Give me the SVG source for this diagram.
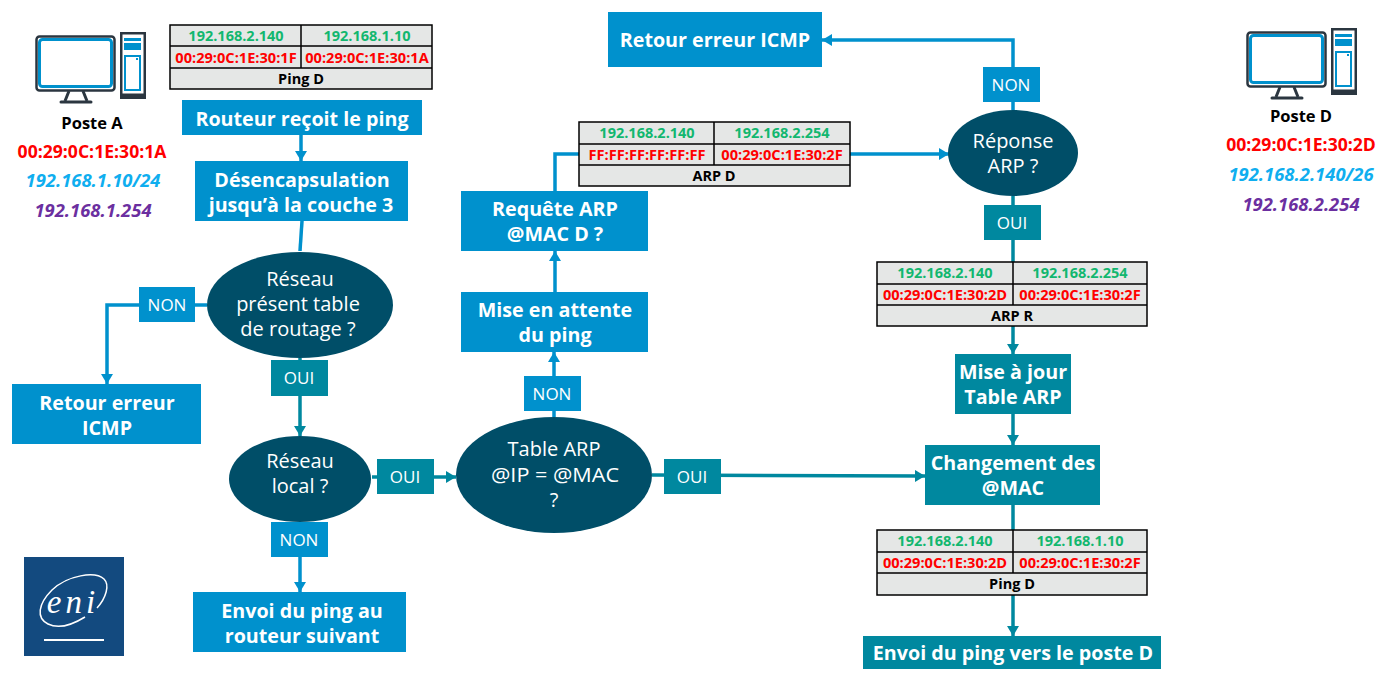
<svg xmlns="http://www.w3.org/2000/svg" width="1389" height="679" viewBox="0 0 1389 679">
<style>
text{font-family:"Open Sans","Noto Sans","Liberation Sans",sans-serif;text-anchor:middle}
.b{fill:#0091CD}.t{fill:#00889F}.d{fill:#004E68}
.h{font-size:19.7px;font-weight:700;fill:#fff}
.q{font-size:20px;fill:#fff}
.l{font-size:17px;fill:#fff}
.ip{font-size:14.5px;font-weight:700;fill:#12B76F}
.mac{font-size:14.6px;font-weight:700;fill:#f00}
.cap{font-size:14.5px;font-weight:700;fill:#000}
.cell{fill:#E5E7E6;stroke:#000;stroke-width:1.5}
.tl{stroke:#000;stroke-width:1.5;fill:none}
.name{font-size:16.5px;font-weight:700;fill:#000}
.r{font-size:17.6px;font-weight:700;fill:#f00}
.c{font-size:18.4px;font-weight:700;font-style:italic;fill:#0FAEEF}
.p{font-size:18.4px;font-weight:700;font-style:italic;fill:#6B2FA0}
.cb{stroke:#0091CD;stroke-width:3.5;fill:none}
.ct{stroke:#00889F;stroke-width:3.5;fill:none}
.mon{fill:#fff;stroke:#2B3640;stroke-width:2.5}
.scr{fill:#fff;stroke:#0091CD;stroke-width:3}
</style>
<defs>
<marker id="ab" markerUnits="userSpaceOnUse" markerWidth="12" markerHeight="12" refX="10" refY="6" orient="auto"><path d="M0 0L10 6L0 12Z" fill="#0091CD"/></marker>
<marker id="at" markerUnits="userSpaceOnUse" markerWidth="12" markerHeight="12" refX="10" refY="6" orient="auto"><path d="M0 0L10 6L0 12Z" fill="#00889F"/></marker>
<g id="pc">
<rect class="mon" x="0.5" y="0.5" width="78" height="54" rx="3"/>
<rect class="scr" x="3.5" y="3.5" width="72" height="47" rx="3"/>
<path d="M33 55L29 65M47 55L51 65" stroke="#2B3640" stroke-width="3" fill="none"/>
<path d="M25 66H55" stroke="#2B3640" stroke-width="3" stroke-linecap="round"/>
<rect x="84" y="-4" width="26" height="67" fill="#2B3640"/>
<rect x="86.5" y="-1.5" width="21" height="59" fill="#fff"/>
<rect x="88" y="2" width="17" height="3" fill="#0091CD"/>
<rect x="88" y="7" width="17" height="7" fill="#0091CD"/>
<rect x="88" y="19" width="17" height="36" fill="#0091CD"/>
<rect x="90" y="21" width="13" height="32" fill="#fff"/>
<rect x="100" y="22" width="2" height="2" fill="#0091CD"/>
</g>
</defs>

<g id="connectors">
<path class="cb" d="M301 135V161" marker-end="url(#ab)"/>
<path class="cb" d="M302 221L300 251"/>
<path class="cb" d="M207 305H107V384" marker-end="url(#ab)"/>
<path class="ct" d="M300 358V436" marker-end="url(#at)"/>
<path class="ct" d="M372 477H456" marker-end="url(#at)"/>
<path class="cb" d="M300 522V592" marker-end="url(#ab)"/>
<path class="ct" d="M652 475L925 476" marker-end="url(#at)"/>
<path class="cb" d="M554 417V352" marker-end="url(#ab)"/>
<path class="cb" d="M555 292V251" marker-end="url(#ab)"/>
<path class="cb" d="M555 191V154H949" marker-end="url(#ab)"/>
<path class="cb" d="M1013 110V40H822" marker-end="url(#ab)"/>
<path class="ct" d="M1013 196V354" marker-end="url(#at)"/>
<path class="ct" d="M1013 414V445" marker-end="url(#at)"/>
<path class="ct" d="M1013 505V636" marker-end="url(#at)"/>
</g>

<g id="poste-a">
<use href="#pc" x="36" y="36"/>
<text class="name" x="92" y="129">Poste A</text>
<text class="r" x="92" y="158">00:29:0C:1E:30:1A</text>
<text class="c" x="93" y="187">192.168.1.10/24</text>
<text class="p" x="93" y="217">192.168.1.254</text>
</g>
<g id="poste-d">
<use href="#pc" x="1247" y="32"/>
<text class="name" x="1301" y="122">Poste D</text>
<text class="r" x="1301" y="151">00:29:0C:1E:30:2D</text>
<text class="c" x="1301" y="181">192.168.2.140/26</text>
<text class="p" x="1301" y="211">192.168.2.254</text>
</g>

<g id="table-ping-1">
<rect class="cell" x="170" y="25" width="262" height="64"/>
<path class="tl" d="M170 46H432M170 68H432M301 25V68"/>
<text class="ip" x="236" y="41">192.168.2.140</text><text class="ip" x="367" y="41">192.168.1.10</text>
<text class="mac" x="236" y="63">00:29:0C:1E:30:1F</text><text class="mac" x="367" y="63">00:29:0C:1E:30:1A</text>
<text class="cap" x="301" y="84">Ping D</text>
</g>
<g id="table-arp-d">
<rect class="cell" x="579" y="122" width="271" height="64"/>
<path class="tl" d="M579 144H850M579 165H850M714 122V165"/>
<text class="ip" x="647" y="138">192.168.2.140</text><text class="ip" x="782" y="138">192.168.2.254</text>
<text class="mac" x="647" y="160">FF:FF:FF:FF:FF:FF</text><text class="mac" x="782" y="160">00:29:0C:1E:30:2F</text>
<text class="cap" x="714" y="181">ARP D</text>
</g>
<g id="table-arp-r">
<rect class="cell" x="877" y="262" width="270" height="64"/>
<path class="tl" d="M877 284H1147M877 305H1147M1013 262V305"/>
<text class="ip" x="945" y="278">192.168.2.140</text><text class="ip" x="1080" y="278">192.168.2.254</text>
<text class="mac" x="945" y="300">00:29:0C:1E:30:2D</text><text class="mac" x="1080" y="300">00:29:0C:1E:30:2F</text>
<text class="cap" x="1012" y="321">ARP R</text>
</g>
<g id="table-ping-2">
<rect class="cell" x="877" y="530" width="270" height="65"/>
<path class="tl" d="M877 552H1147M877 573H1147M1013 530V573"/>
<text class="ip" x="945" y="546">192.168.2.140</text><text class="ip" x="1080" y="546">192.168.1.10</text>
<text class="mac" x="945" y="568">00:29:0C:1E:30:2D</text><text class="mac" x="1080" y="568">00:29:0C:1E:30:2F</text>
<text class="cap" x="1012" y="589">Ping D</text>
</g>

<g id="routeur-recoit"><rect class="b" x="182" y="100" width="240" height="35"/><text class="h" x="302" y="126">Routeur reçoit le ping</text></g>
<g id="desencapsulation"><rect class="b" x="195" y="161" width="213" height="60"/><text class="h" x="302" y="187">Désencapsulation</text><text class="h" x="301" y="212">jusqu’à la couche 3</text></g>
<g id="reseau-present"><ellipse class="d" cx="300" cy="305" rx="93" ry="53"/><text class="q" x="300" y="286">Réseau</text><text class="q" x="298" y="311">présent table</text><text class="q" x="298" y="336">de routage ?</text></g>
<g id="non-1"><rect class="b" x="139" y="287" width="56" height="35"/><text class="l" x="167" y="311">NON</text></g>
<g id="retour-icmp-1"><rect class="b" x="12" y="384" width="189" height="60"/><text class="h" x="107" y="410">Retour erreur</text><text class="h" x="107" y="435">ICMP</text></g>
<g id="oui-1"><rect class="t" x="271" y="360" width="57" height="36"/><text class="l" x="299" y="384">OUI</text></g>
<g id="reseau-local"><ellipse class="d" cx="300" cy="479" rx="71" ry="43"/><text class="q" x="300" y="468">Réseau</text><text class="q" x="300" y="493">local ?</text></g>
<g id="oui-2"><rect class="t" x="377" y="459" width="57" height="35"/><text class="l" x="405" y="483">OUI</text></g>
<g id="non-2"><rect class="b" x="271" y="522" width="57" height="35"/><text class="l" x="299" y="546">NON</text></g>
<g id="envoi-routeur"><rect class="b" x="193" y="592" width="213" height="60"/><text class="h" x="302" y="618">Envoi du ping au</text><text class="h" x="302" y="643">routeur suivant</text></g>
<g id="table-arp"><ellipse class="d" cx="554" cy="475" rx="98" ry="58"/><text class="q" x="554" y="456">Table ARP</text><text class="q" x="555" y="482" textLength="128" lengthAdjust="spacingAndGlyphs">@IP = @MAC</text><text class="q" x="554" y="507">?</text></g>
<g id="oui-3"><rect class="t" x="664" y="459" width="57" height="35"/><text class="l" x="692" y="483">OUI</text></g>
<g id="non-3"><rect class="b" x="524" y="376" width="57" height="35"/><text class="l" x="552" y="400">NON</text></g>
<g id="mise-attente"><rect class="b" x="461" y="292" width="187" height="60"/><text class="h" x="555" y="317">Mise en attente</text><text class="h" x="555" y="342">du ping</text></g>
<g id="requete-arp"><rect class="b" x="461" y="191" width="187" height="60"/><text class="h" x="555" y="216">Requête ARP</text><text class="h" x="555" y="241">@MAC D ?</text></g>
<g id="retour-icmp-2"><rect class="b" x="608" y="12" width="214" height="55"/><text class="h" x="715" y="47">Retour erreur ICMP</text></g>
<g id="non-4"><rect class="b" x="983" y="67" width="57" height="35"/><text class="l" x="1011" y="91">NON</text></g>
<g id="reponse-arp"><ellipse class="d" cx="1013" cy="153" rx="65" ry="43"/><text class="q" x="1013" y="148">Réponse</text><text class="q" x="1013" y="173">ARP ?</text></g>
<g id="oui-4"><rect class="t" x="984" y="205" width="57" height="35"/><text class="l" x="1012" y="229">OUI</text></g>
<g id="mise-a-jour"><rect class="t" x="955" y="354" width="116" height="60"/><text class="h" x="1013" y="379">Mise à jour</text><text class="h" x="1013" y="404">Table ARP</text></g>
<g id="changement"><rect class="t" x="925" y="445" width="175" height="60"/><text class="h" x="1013" y="470">Changement des</text><text class="h" x="1013" y="495">@MAC</text></g>
<g id="envoi-poste-d"><rect class="t" x="863" y="636" width="298" height="33"/><text class="h" x="1013" y="660">Envoi du ping vers le poste D</text></g>

<g id="logo">
<rect x="24" y="557" width="100" height="99" fill="#134A7F"/>
<path d="M97 608C106 598 110 585 104 579C95 571 68 575 52 590C38 604 36 618 48 624C58 629 72 625 85 617" fill="none" stroke="#fff" stroke-width="1.5"/>
<text x="73" y="613" style="font-family:'Liberation Serif',serif;font-size:33px;font-style:italic;fill:#fff;letter-spacing:4px">eni</text>
<rect x="44" y="639" width="60" height="2" fill="#fff"/>
</g>
</svg>
